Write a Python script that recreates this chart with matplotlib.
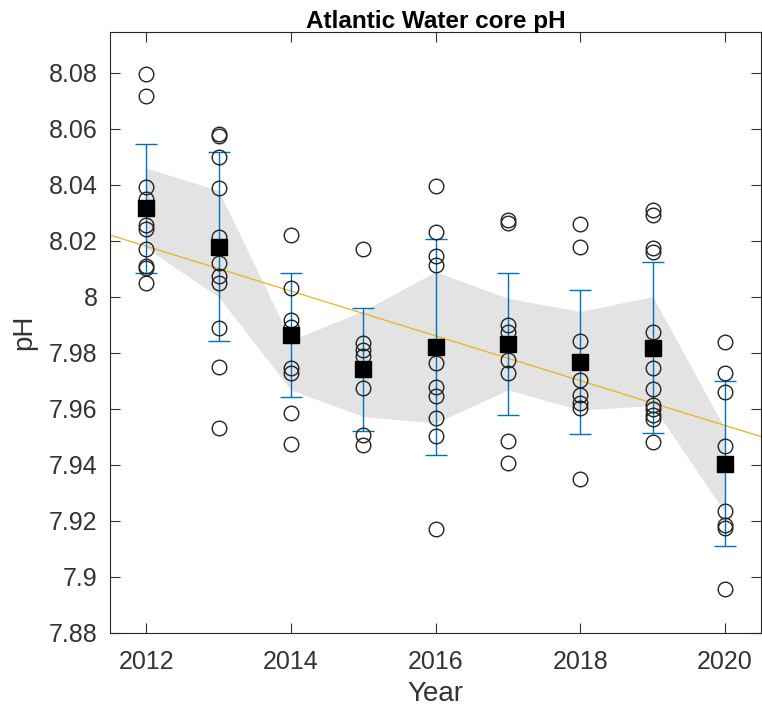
import numpy as np
import matplotlib.pyplot as plt
from matplotlib.ticker import FuncFormatter

plt.rcParams['font.family'] = ['Liberation Sans', 'DejaVu Sans']

years = [2012, 2013, 2014, 2015, 2016, 2017, 2018, 2019, 2020]

# individual samples per year
samples = [
    [8.0795, 8.0718, 8.0394, 8.0350, 8.0257, 8.0243, 8.0171, 8.0111, 8.0104, 8.0051],
    [8.0581, 8.0575, 8.0499, 8.0390, 8.0215, 8.0120, 8.0073, 8.0049, 7.9888, 7.9749, 7.9531],
    [8.0221, 8.0031, 7.9918, 7.9894, 7.9745, 7.9728, 7.9585, 7.9474],
    [8.0171, 7.9835, 7.9811, 7.9789, 7.9674, 7.9507, 7.9471],
    [8.0396, 8.0233, 8.0146, 8.0114, 7.9763, 7.9680, 7.9646, 7.9567, 7.9504, 7.9170],
    [8.0275, 8.0265, 7.9900, 7.9876, 7.9773, 7.9730, 7.9487, 7.9406],
    [8.0261, 8.0178, 7.9844, 7.9704, 7.9650, 7.9620, 7.9602, 7.9349],
    [8.0311, 8.0293, 8.0174, 8.0162, 7.9876, 7.9745, 7.9670, 7.9614, 7.9599, 7.9579, 7.9563, 7.9483],
    [7.9840, 7.9730, 7.9662, 7.9466, 7.9237, 7.9186, 7.9174, 7.8956],
]

means = [8.0317, 8.0180, 7.9864, 7.9742, 7.9821, 7.9832, 7.9768, 7.9818, 7.9405]
errs = [0.0230, 0.0336, 0.0220, 0.0219, 0.0385, 0.0255, 0.0257, 0.0305, 0.0295]

band_hi = [8.0460, 8.0380, 7.9845, 7.9950, 8.0090, 7.9995, 7.9948, 8.0001, 7.9530]
band_lo = [8.0175, 8.0000, 7.9668, 7.9573, 7.9550, 7.9668, 7.9596, 7.9612, 7.9230]

# linear trend: pH = trend_2012 + trend_slope * (year - 2012)
trend_2012 = 8.0181
trend_slope = -0.0080

fig = plt.figure(figsize=(7.62, 7.09), dpi=100)
ax = fig.add_axes([0.1444, 0.1072, 0.8545, 0.8477])

ax.fill_between(years, band_lo, band_hi, color='#e3e3e3', linewidth=0, zorder=1)

xl = np.array([2011.5, 2020.5])
ax.plot(xl, trend_2012 + trend_slope * (xl - 2012), color='#edb120', lw=0.9, zorder=2)

ax.errorbar(years, means, yerr=errs, fmt='none', ecolor='#0072bd', elinewidth=1,
            capsize=8, capthick=1, zorder=3)

for yr, vals in zip(years, samples):
    ax.plot([yr] * len(vals), vals, 'o', mfc='none', mec='#222222', mew=1.0, ms=10.5, zorder=4)

ax.plot(years, means, 's', color='black', ms=12, zorder=5)

ax.set_xlim(2011.5, 2020.5)
ax.set_ylim(7.88, 8.0946)
ax.set_xticks([2012, 2014, 2016, 2018, 2020])
ax.set_yticks(np.arange(7.88, 8.081, 0.02))
ax.yaxis.set_major_formatter(FuncFormatter(lambda v, p: '%g' % round(v, 2)))

ax.tick_params(direction='in', length=7, width=0.8, top=True, right=True,
               labelsize=18, colors='#333333')
ax.tick_params(axis='x', pad=12)
ax.tick_params(axis='y', pad=9)
for s in ax.spines.values():
    s.set_color('#262626')
    s.set_linewidth(0.8)

ax.set_xlabel('Year', fontsize=20, color='#333333', labelpad=5)
ax.set_ylabel('pH', fontsize=20, color='#333333', labelpad=8)
ax.set_title('Atlantic Water core pH', fontsize=17.5, fontweight='bold', pad=3)

fig.savefig('out.png', dpi=100)
